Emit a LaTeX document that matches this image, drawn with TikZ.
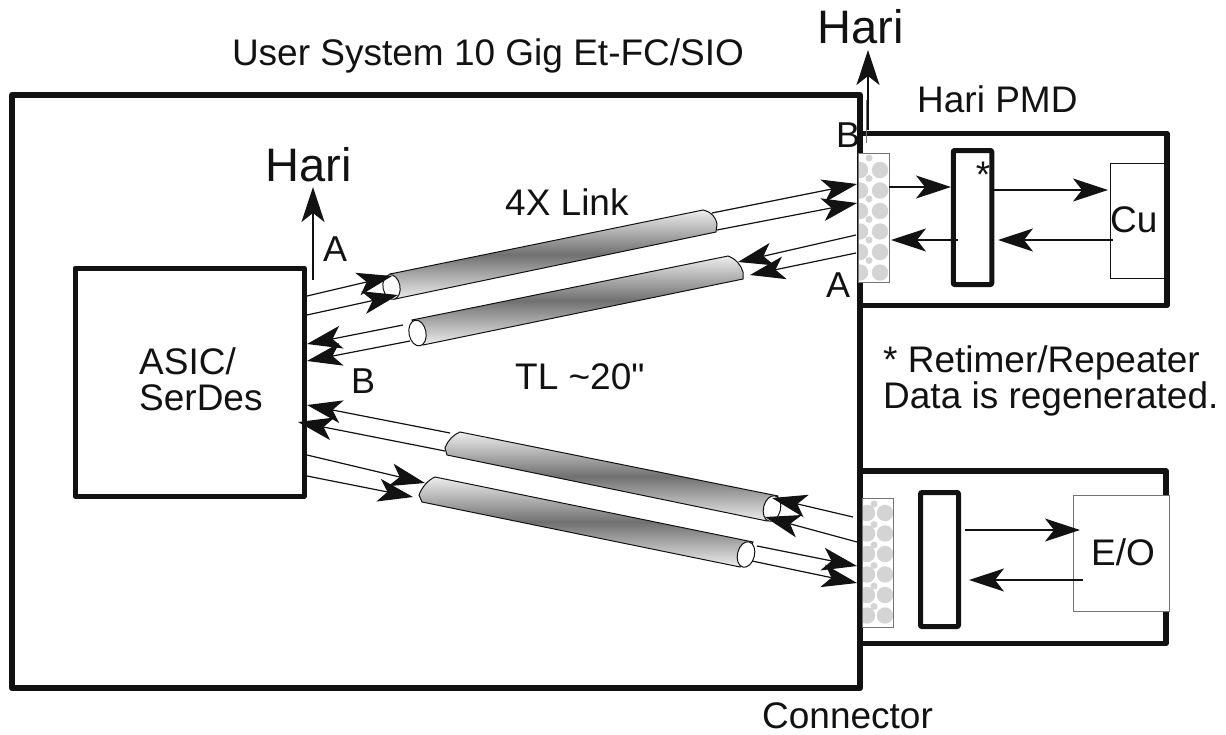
\documentclass[tikz,border=0pt]{standalone}
\usepackage{fontspec}
\setmainfont{Liberation Sans}
\newfontfamily\plainsans{Liberation Sans}[Ligatures=NoCommon]
\usetikzlibrary{arrows.meta}
\definecolor{ink}{gray}{0.07}
\tikzset{
  thick box/.style={draw=ink,line width=5.5pt,line join=round,fill=none},
  mid box/.style={draw=ink,line width=5pt,line join=round,inner sep=0pt},
  thin box/.style={draw=black!55,line width=1pt},
  wire/.style={draw=ink,line width=1.2pt,-{Stealth[length=35pt,width=23pt,inset=9pt,fill=ink]}},
  label/.style={text=ink,font=\fontsize{37}{42}\selectfont,inner sep=0pt,align=left,anchor=base west},
  letter/.style={label,font=\fontsize{36}{40}\selectfont},
  big/.style={text=ink,font=\fontsize{47}{50}\selectfont,inner sep=0pt},
  cyl/.style={draw=ink,line width=1pt,top color=black!7,bottom color=black!7,middle color=black!56},
  end/.style={draw=ink,line width=1pt,fill=white},
  dot/.style={fill=black!17,draw=none},
}
\newcommand{\wirebetween}[3]{%
  \coordinate (#1a) at (#2); \coordinate (#1b) at (#3);
  \draw[wire] (#1a) -- (#1b);}
\newcommand{\dotcolumn}[5]{%
  \foreach \k in {0,...,5}{
    \fill[dot] (#1,#4+20.5*\k) circle[radius=8.2pt];
    \fill[dot] (#2,#4+20.5*\k) circle[radius=8.2pt];
    \fill[dot] (#3,#5+20.5*\k) circle[radius=3.5pt];
  }}
\begin{document}
\begin{tikzpicture}[x=1pt,y=-1pt]
\useasboundingbox (0,0) rectangle (1226,734);
% outer boxes
\node[thick box,line width=6pt,minimum width=848pt,minimum height=593pt,inner sep=0pt] (sys) at (436,391.5) {};
\node[mid box,minimum width=229pt,minimum height=228pt] (asic) at (189.5,382) {};
\node[label] (asictext1) at (139,374) {ASIC/};
\node[label] (asictext2) at (139,410) {SerDes};
\draw[thick box] (861,133.5) -- (1167,133.5) -- (1167,305.5) -- (861,305.5);
\draw[thick box] (861,471) -- (1166,471) -- (1166,643.5) -- (861,643.5);
% connectors with dots
\begin{scope}
\clip (858,153) rectangle (889,282);
\fill[white] (858,153) rectangle (889,282);
\dotcolumn{880}{860}{869}{170}{158}
\end{scope}
\node[thin box,minimum width=31pt,minimum height=129pt,inner sep=0pt] (conna) at (873.5,217.5) {};
\begin{scope}
\clip (862,498) rectangle (893,627);
\fill[white] (862,498) rectangle (893,627);
\dotcolumn{885}{867}{874}{513}{504}
\end{scope}
\node[thin box,minimum width=31pt,minimum height=129pt,inner sep=0pt] (connb) at (877.5,562.5) {};
% retimers, terminations
\node[mid box,rounded corners=1pt,minimum width=38.5pt,minimum height=134pt] (ret) at (972.5,217.5) {};
\node[mid box,rounded corners=1pt,minimum width=38pt,minimum height=134pt] (rep) at (939.5,559.5) {};
\node[draw=ink,line width=0.8pt,minimum width=56pt,minimum height=115pt,inner sep=0pt] (cu) at (1138,220.5) {};
\node[thin box,fill=white,minimum width=96pt,minimum height=116pt,inner sep=0pt] (eo) at (1121,553) {};
% cylinders
\path[cyl] (390,274) -- (703,210) .. controls (712,212) and (716,218) .. (717,224) -- (716,232) -- (395,299) -- cycle;
\path[end] (391.5,287) ellipse [x radius=8.5pt,y radius=12.5pt,rotate=11];
\path[cyl] (412,320) -- (728,256) .. controls (736,259) and (741,265) .. (743,272) -- (743,279) -- (423,345) -- cycle;
\path[end] (417.5,333) ellipse [x radius=8.5pt,y radius=13pt,rotate=11];
\path[cyl] (447,455) -- (445,448) .. controls (448,440) and (453,435) .. (460,432) -- (778,496) -- (767,521) -- cycle;
\path[end] (772,508.5) ellipse [x radius=8.5pt,y radius=13pt,rotate=-14];
\path[cyl] (422,502) -- (419,495) .. controls (422,487) and (428,480) .. (435,477) -- (753,542) -- (740,567) -- cycle;
\path[end] (746,554.5) ellipse [x radius=8.5pt,y radius=13pt,rotate=-14];
% wires, upper link
\wirebetween{ua}{307,296}{392,276}
\wirebetween{ub}{307,315}{398,295}
\wirebetween{uc}{403,325}{307,344}
\wirebetween{ud}{410,341}{307,361}
\wirebetween{ue}{712,213}{857,184}
\wirebetween{uf}{717,230}{857,203}
\wirebetween{ug}{856,235}{738,262}
\wirebetween{uh}{856,253}{750,275}
% wires, lower link
\wirebetween{la}{450,433}{307,405}
\wirebetween{lb}{445,451}{298,422}
\wirebetween{lc}{307,455}{425,483}
\wirebetween{ld}{307,476}{413,497}
\wirebetween{le}{853,517}{772,498}
\wirebetween{lf}{857,542}{765,517}
\wirebetween{lg}{757,546}{857,566}
\wirebetween{lh}{752,561}{857,583}
% internal wires
\wirebetween{ia}{889,187}{951,187}
\wirebetween{ib}{958,240}{891,240}
\wirebetween{ic}{993,190}{1108,190}
\wirebetween{id}{1113,240}{998,240}
\wirebetween{ie}{965,530}{1080,530}
\wirebetween{if}{1083,580}{969,580}
% Hari arrows
\wirebetween{ha}{868,130}{868,50}
\wirebetween{hb}{313,280}{313,187}
\coordinate (hc) at (866,100); \coordinate (hd) at (866,143);
\draw[draw=black!55,line width=1pt] (hc) -- (hd);
% texts
\node[label,anchor=center] (title) at (488,56) {User System 10 Gig Et-FC/SIO};
\node[big] (hari1) at (861,27) {Hari};
\node[big] (hari2) at (309,165) {Hari};
\node[label] (pmd) at (917,112) {Hari PMD};
\node[letter] (bb) at (836,147) {B};
\node[letter] (ab) at (826,297) {A};
\node[letter] (al) at (323,261) {A};
\node[letter] (bl) at (351,393) {B};
\node[label] (link) at (505,215) {4X Link};
\node[label,font=\fontsize{37}{42}\selectfont\plainsans] (tl) at (515,389) {TL \textasciitilde20"};
\node[label,anchor=center] (st) at (983,175) {*};
\node[label] (cutext) at (1110,232) {Cu};
\node[label] (eotext) at (1091,565) {E/O};
\node[label] (r1) at (883,372) {* Retimer/Repeater};
\node[label] (r2) at (883,408) {Data is regenerated.};
\node[label] (con) at (762,728) {Connector};
\end{tikzpicture}
\end{document}
